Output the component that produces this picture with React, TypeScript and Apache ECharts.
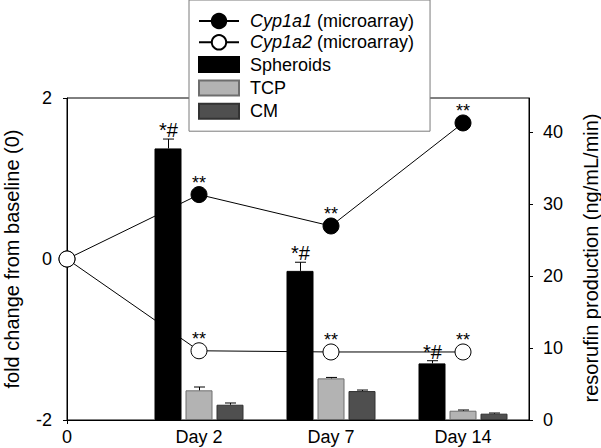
import React, { useEffect, useRef } from "react";
import * as echarts from "echarts";

// ---- data ----
const xLabels = ["0", "Day 2", "Day 7", "Day 14"];
const xPos = [0, 1, 2, 3];
const cyp1a1 = [0, 0.8, 0.41, 1.69];
const cyp1a2 = [0, -1.14, -1.155, -1.155];
const cyp1a1Marks = ["", "**", "**", "**"];
const cyp1a2Marks = ["", "**", "**", "**"];
const barDays = [1, 2, 3];
const spheroids = [37.7, 20.7, 7.86];
const spheroidsErr = [1.3, 1.2, 0.37];
const tcp = [4.12, 5.78, 1.29];
const tcpErr = [0.46, 0.13, 0.1];
const cm = [2.12, 4.02, 0.88];
const cmErr = [0.24, 0.14, 0.09];
const spheroidMarks = ["*#", "*#", "*#"];
const rightTicks = [0, 10, 20, 30, 40];
const xTicks = [0];

const seriesNames = ["Cyp1a1 (microarray)", "Cyp1a2 (microarray)", "Spheroids", "TCP", "CM"];

const FONT = "'Liberation Sans', Arial, Helvetica, sans-serif";
const BAR_W = 27;
const STEP = 31;
// legend swatch: 40x15 rect centred in a 40x18 icon box
const RECT_ICON = "path://M0,0 M40,18 M0,1.5 L40,1.5 L40,16.5 L0,16.5 Z";

function errSeries(values: number[], errs: number[], offset: number, marks?: string[]) {
  return {
    type: "custom",
    xAxisIndex: 0,
    yAxisIndex: 1,
    z: 6,
    silent: true,
    clip: false,
    data: barDays.map((d, i) => [d, values[i], errs[i], i]),
    renderItem: (params: any, api: any) => {
      const x = api.value(0);
      const v = api.value(1);
      const e = api.value(2);
      const i = api.value(3);
      const p0 = api.coord([x, v]);
      const p1 = api.coord([x, v + e]);
      const cx = Math.round(p0[0] + offset) + 0.5;
      const children: any[] = [
        { type: "line", shape: { x1: cx, y1: p0[1], x2: cx, y2: p1[1] }, style: { stroke: "#000", lineWidth: 1 } },
        { type: "line", shape: { x1: cx - 5.5, y1: p1[1], x2: cx + 5.5, y2: p1[1] }, style: { stroke: "#000", lineWidth: 1 } },
      ];
      if (marks && marks[i]) {
        children.push({
          type: "text",
          x: cx,
          y: p1[1] + 1,
          style: { text: marks[i], fill: "#000", fontSize: 20, fontFamily: FONT, align: "center", verticalAlign: "bottom" },
        });
      }
      return { type: "group", children };
    },
  };
}

export default function App() {
  const ref = useRef<HTMLDivElement>(null);
  useEffect(() => {
    if (!ref.current) return;
    const chart = echarts.init(ref.current, undefined, { renderer: "svg" });
    const markLabel = (marks: string[]) => ({
      show: true,
      position: "top",
      distance: -6,
      color: "#000",
      fontSize: 18,
      fontFamily: FONT,
      formatter: (p: any) => marks[p.dataIndex],
    });
    const barGap = ((STEP - BAR_W) / BAR_W) * 100 + "%";
    const option: any = {
      animation: false,
      backgroundColor: "#fff",
      textStyle: { fontFamily: FONT },
      grid: { left: 67, right: 72, top: 98, bottom: 28, show: true, borderColor: "#000", borderWidth: 1, containLabel: false },
      xAxis: [
        {
          type: "value",
          min: 0,
          max: 3.5,
          interval: 0.5,
          axisLine: { show: true, onZero: false, lineStyle: { color: "#000", width: 1 } },
          axisTick: { show: true, length: 4, customValues: xTicks, lineStyle: { color: "#000" } },
          axisLabel: {
            customValues: xPos,
            formatter: (v: number) => xLabels[xPos.indexOf(v)] ?? "",
            color: "#000",
            fontSize: 18,
            fontFamily: FONT,
            margin: 8,
          },
          splitLine: { show: false },
        },
      ],
      yAxis: [
        {
          type: "value",
          min: -2,
          max: 2,
          interval: 2,
          axisLine: { show: true, lineStyle: { color: "#000", width: 1 } },
          axisTick: { show: true, length: 4, lineStyle: { color: "#000" } },
          axisLabel: { color: "#000", fontSize: 18, fontFamily: FONT, margin: 15 },
          splitLine: { show: false },
        },
        {
          type: "value",
          position: "right",
          min: 0,
          max: 44.7,
          interval: 10,
          axisLine: { show: true, lineStyle: { color: "#000", width: 1 } },
          axisTick: { show: true, length: 4, customValues: rightTicks, lineStyle: { color: "#000" } },
          axisLabel: { customValues: rightTicks, color: "#000", fontSize: 18, fontFamily: FONT, margin: 14 },
          splitLine: { show: false },
        },
      ],
      legend: {
        data: [
          { name: seriesNames[0] },
          { name: seriesNames[1] },
          { name: seriesNames[2], icon: RECT_ICON },
          { name: seriesNames[3], icon: RECT_ICON },
          { name: seriesNames[4], icon: RECT_ICON },
        ],
        orient: "vertical",
        left: 189,
        top: 0,
        itemWidth: 40,
        itemHeight: 18,
        itemGap: 3.3,
        padding: [12, 16, 10, 9],
        backgroundColor: "#fff",
        borderColor: "#7a7a7a",
        borderWidth: 1,
        selectedMode: false,
        z: 10,
        textStyle: {
          color: "#000",
          fontSize: 18,
          fontFamily: FONT,
          padding: [0, 0, 0, 6],
          rich: { i: { fontStyle: "italic", fontSize: 18, fontFamily: FONT, color: "#000" } },
        },
        formatter: (name: string) => {
          if (name.startsWith("Cyp")) {
            const [gene, ...rest] = name.split(" ");
            return `{i|${gene}} ${rest.join(" ")}`;
          }
          return name;
        },
      },
      graphic: [
        {
          type: "text",
          x: 12,
          y: 259,
          rotation: Math.PI / 2,
          style: { text: "fold change from baseline (0)", fill: "#000", fontSize: 20, fontFamily: FONT, align: "center", verticalAlign: "middle" },
        },
        {
          type: "text",
          x: 591,
          y: 258,
          rotation: Math.PI / 2,
          style: { text: "resorufin production (ng/mL/min)", fill: "#000", fontSize: 20, fontFamily: FONT, align: "center", verticalAlign: "middle" },
        },
      ],
      series: [
        {
          name: seriesNames[0],
          type: "line",
          xAxisIndex: 0,
          yAxisIndex: 0,
          data: xPos.map((x, i) => [x, cyp1a1[i]]),
          symbol: "circle",
          symbolSize: 16,
          lineStyle: { color: "#000", width: 1 },
          itemStyle: { color: "#000", borderColor: "#000", borderWidth: 1 },
          label: markLabel(cyp1a1Marks),
          z: 2,
        },
        {
          name: seriesNames[1],
          type: "line",
          xAxisIndex: 0,
          yAxisIndex: 0,
          data: xPos.map((x, i) => [x, cyp1a2[i]]),
          symbol: "circle",
          symbolSize: 16,
          lineStyle: { color: "#000", width: 1 },
          itemStyle: { color: "#fff", borderColor: "#000", borderWidth: 1 },
          label: markLabel(cyp1a2Marks),
          z: 2,
        },
        {
          name: seriesNames[2],
          type: "bar",
          xAxisIndex: 0,
          yAxisIndex: 1,
          data: barDays.map((d, i) => [d, spheroids[i]]),
          barWidth: BAR_W,
          barGap,
          itemStyle: { color: "#000", borderColor: "#000", borderWidth: 1 },
          z: 4,
        },
        {
          name: seriesNames[3],
          type: "bar",
          xAxisIndex: 0,
          yAxisIndex: 1,
          data: barDays.map((d, i) => [d, tcp[i]]),
          barWidth: BAR_W,
          barGap,
          itemStyle: { color: "#b3b3b3", borderColor: "#6e6e6e", borderWidth: 1 },
          z: 4,
        },
        {
          name: seriesNames[4],
          type: "bar",
          xAxisIndex: 0,
          yAxisIndex: 1,
          data: barDays.map((d, i) => [d, cm[i]]),
          barWidth: BAR_W,
          barGap,
          itemStyle: { color: "#4f4f4f", borderColor: "#333", borderWidth: 1 },
          z: 4,
        },
        errSeries(spheroids, spheroidsErr, -STEP, spheroidMarks),
        errSeries(tcp, tcpErr, 0),
        errSeries(cm, cmErr, STEP),
      ],
    };
    chart.setOption(option);
    return () => chart.dispose();
  }, []);
  return <div ref={ref} style={{ position: "fixed", left: 0, top: 0, width: 601, height: 448 }} />;
}
